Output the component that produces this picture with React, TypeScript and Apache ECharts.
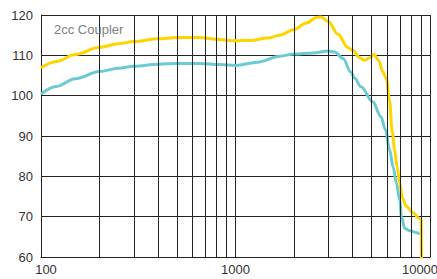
import React, { useEffect, useRef } from "react";
import * as echarts from "echarts";

const yellowFreq = [100, 120, 150, 200, 250, 300, 400, 500, 650, 830, 1000, 1200, 1464, 1687, 2000, 2315, 2606, 2752, 3000, 3365, 3787, 4018, 4351, 4600, 4900, 5160, 5440, 5720, 5960, 6184, 6400, 6585, 6768, 6987, 7211, 7562, 8176, 8777, 9000, 9032];
const yellowValues = [106.9, 108.5, 110.2, 112.0, 112.9, 113.4, 114.1, 114.4, 114.4, 113.9, 113.6, 113.7, 114.3, 115.0, 116.4, 118.0, 119.4, 119.5, 118.4, 115.2, 111.9, 111.2, 109.4, 108.8, 109.4, 110.2, 108.8, 105.9, 104.3, 99.0, 91.0, 86.5, 82.4, 78.3, 74.6, 72.5, 71.0, 69.6, 69.3, 58.0];

const tealFreq = [100, 120, 150, 200, 250, 300, 400, 500, 650, 830, 1000, 1300, 1687, 2000, 2500, 3000, 3236, 3571, 3925, 4100, 4418, 5075, 5600, 5900, 6205, 6452, 6721, 6987, 7128, 7413, 7865, 8677, 8777];
const tealValues = [100.4, 102.3, 104.2, 106.0, 106.8, 107.3, 107.8, 108.0, 108.0, 107.7, 107.5, 108.3, 109.8, 110.3, 110.6, 111.1, 110.8, 109.2, 105.8, 104.3, 102.2, 98.5, 94.8, 91.5, 86.5, 82.4, 78.3, 74.1, 70.0, 67.1, 66.5, 66.0, 65.5];

const minorGridFreqs = [200, 300, 400, 500, 600, 700, 800, 900, 2000, 3000, 4000, 5000, 6000, 7000, 8000, 9000];
const xTickLabels = ["100", "1000", "10000"];
const yTicks = [60, 70, 80, 90, 100, 110, 120];
const titleText = "2cc Coupler";

const GRID = "#222";

export default function App() {
  const ref = useRef<HTMLDivElement>(null);
  useEffect(() => {
    if (!ref.current) return;
    const chart = echarts.init(ref.current, null, { renderer: "svg" });
    const zip = (xs: number[], ys: number[]) => xs.map((x, i) => [x, ys[i]]);
    chart.setOption({
      animation: false,
      title: {
        text: titleText,
        left: 54,
        top: 23,
        padding: 0,
        textStyle: { fontSize: 13, fontWeight: "normal", color: "#808080", fontFamily: "Liberation Sans" },
      },
      grid: { left: 41, right: 7, top: 15, bottom: 22, outerBoundsMode: "none", containLabel: false },
      xAxis: {
        type: "log",
        logBase: 10,
        min: 100,
        max: 10000,
        axisLine: { show: true, lineStyle: { color: GRID, width: 1 } },
        axisTick: { show: false },
        splitLine: { show: true, lineStyle: { color: GRID, width: 1 } },
        axisLabel: {
          margin: 6,
          fontSize: 13,
          color: "#333",
          fontFamily: "Liberation Sans",
          formatter: (v: number) => {
            const s = xTickLabels.find((t) => Number(t) === Math.round(v)) ?? "";
            if (s === xTickLabels[0]) return "{a|" + s + "}";
            if (s === xTickLabels[xTickLabels.length - 1]) return "{b|" + s + "}";
            return s;
          },
          rich: {
            a: { padding: [0, 0, 0, 10], fontSize: 13, color: "#333", fontFamily: "Liberation Sans" },
            b: { padding: [0, 20, 0, 0], fontSize: 13, color: "#333", fontFamily: "Liberation Sans" },
          },
        },
      },
      yAxis: {
        type: "value",
        min: yTicks[0],
        max: yTicks[yTicks.length - 1],
        interval: 10,
        axisLine: { show: true, lineStyle: { color: GRID, width: 1 } },
        axisTick: { show: false },
        splitLine: { show: true, lineStyle: { color: GRID, width: 1 } },
        axisLabel: { margin: 8, fontSize: 13, color: "#333", fontFamily: "Liberation Sans" },
      },
      series: [
        {
          type: "line",
          data: [],
          z: 1,
          silent: true,
          markLine: {
            silent: true,
            symbol: ["none", "none"],
            label: { show: false },
            lineStyle: { color: GRID, width: 1, type: "solid" },
            emphasis: { disabled: true },
            data: minorGridFreqs.map((f) => ({ xAxis: f })),
          },
        },
        {
          type: "line",
          data: zip(tealFreq, tealValues),
          showSymbol: false,
          smooth: 0.35,
          smoothMonotone: "x",
          z: 3,
          lineStyle: { color: "#6CCBD2", width: 3 },
          itemStyle: { color: "#6CCBD2" },
        },
        {
          type: "line",
          data: zip(yellowFreq, yellowValues),
          showSymbol: false,
          smooth: 0.35,
          smoothMonotone: "x",
          z: 4,
          lineStyle: { color: "#FFD500", width: 3 },
          itemStyle: { color: "#FFD500" },
        },
      ],
    });
    return () => chart.dispose();
  }, []);
  return (
    <div
      ref={ref}
      style={{ position: "fixed", left: 0, top: 0, width: 437, height: 279, background: "#fff" }}
    />
  );
}
